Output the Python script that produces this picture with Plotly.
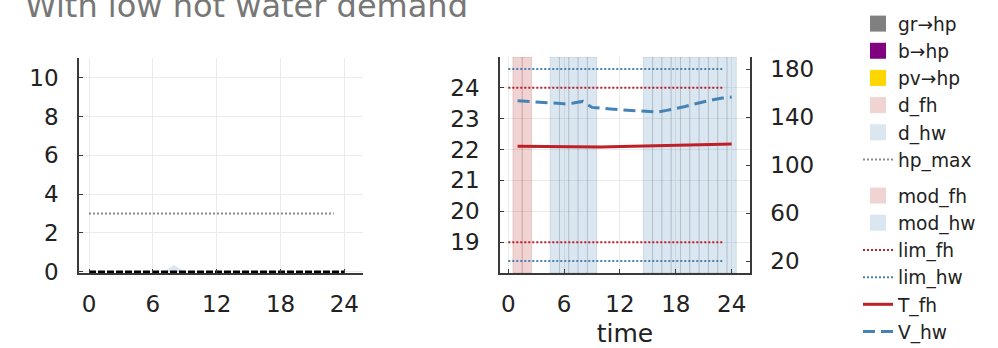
import plotly.graph_objects as go

# ---------------- data ----------------
# heat-pump supply / demand (left panel), hourly
t_in = list(range(0, 24))
gr_hp = [0.0] * 24
b_hp = [0.0] * 24
pv_hp = [0.0] * 24
d_fh = [0.0] * 24
d_hw = [0, 0, 0, 0, 0, 0, 0, 0, 0.35, 0, 0, 0, 0, 0, 0, 0, 0, 0, 0, 0, 0, 0, 0, 0]
hp_max = [3.0] * 24
t_out = list(range(0, 25))
hp_total = [0.0] * 25

# storage states (right panel)
t_state = list(range(1, 25))
T_fh = [22.11, 22.105, 22.10, 22.095, 22.09, 22.085, 22.08, 22.075, 22.08, 22.085,
        22.09, 22.095, 22.10, 22.105, 22.11, 22.12, 22.125, 22.13, 22.14, 22.145,
        22.15, 22.16, 22.17, 22.18]
V_hw = [153.5, 153.0, 152.4, 151.6, 151.0, 151.0, 151.6, 153.0, 148.0, 147.1,
        146.6, 146.0, 145.5, 144.9, 144.4, 144.1, 145.5, 146.9, 148.8, 150.8,
        152.7, 154.4, 155.8, 156.6]
mod_fh = [1, 1, 0, 0, 0, 0, 0, 0, 0, 0, 0, 0, 0, 0, 0, 0, 0, 0, 0, 0, 0, 0, 0, 0]
mod_hw = [0, 0, 0, 0, 1, 1, 1, 1, 1, 0, 0, 0, 0, 0, 1, 1, 1, 1, 1, 1, 1, 1, 1, 1]
lim_fh = [19.0, 24.0]
lim_hw = [20.0, 180.0]

xticks = [0, 6, 12, 18, 24]
yticks_left = [0, 2, 4, 6, 8, 10]
yticks_T = [19, 20, 21, 22, 23, 24]
yticks_V = [20, 60, 100, 140, 180]

title_text = "With low hot water demand"

# ---------------- styling ----------------
FONT = "DejaVu Sans"
RED = "rgb(190,32,40)"
BLUE = "rgb(70,130,180)"
RED_FILL = "rgba(178,34,34,0.2)"
BLUE_FILL = "rgba(70,130,180,0.2)"
GRID = "#ebebeb"
AXIS = "#3a3a3a"
W, H = 998, 348


def px_x(a, b):
    return [a / W, b / W]


def px_y(top, bottom):
    return [1 - bottom / H, 1 - top / H]


fig = go.Figure()

# ----- left panel: stacked supply and demand -----
stack = [("gr→hp", gr_hp, "rgba(128,128,128,1)"),
         ("b→hp", b_hp, "rgba(128,0,128,1)"),
         ("pv→hp", pv_hp, "rgba(255,215,0,1)"),
         ("d_fh", d_fh, RED_FILL),
         ("d_hw", d_hw, BLUE_FILL)]
for name, vals, col in stack:
    fig.add_trace(go.Scatter(x=t_in, y=vals, stackgroup="supply", mode="lines",
                             line=dict(width=0), fillcolor=col, name=name,
                             showlegend=False, xaxis="x", yaxis="y"))

fig.add_trace(go.Scatter(x=t_out, y=hp_total, mode="lines",
                         line=dict(color="black", width=2.5, dash="7px,2px"),
                         showlegend=False, xaxis="x", yaxis="y"))
fig.add_trace(go.Scatter(x=t_in, y=hp_max, mode="lines",
                         line=dict(color="#8a8a8a", width=2, dash="2px,2px"),
                         showlegend=False, xaxis="x", yaxis="y"))

# legend entries for the left panel
for name, _, col in stack:
    fig.add_trace(go.Scatter(x=[None], y=[None], mode="markers", name=name,
                             marker=dict(symbol="square", size=16, color=col),
                             legend="legend", xaxis="x", yaxis="y"))
fig.add_trace(go.Scatter(x=[None], y=[None], mode="lines", name="hp_max",
                         line=dict(color="#8a8a8a", width=2, dash="2px,2px"),
                         legend="legend", xaxis="x", yaxis="y"))

# ----- right panel: operating modes as hourly bands -----
fh_on = [t for t, m in zip(t_state, mod_fh) if m]
hw_on = [t for t, m in zip(t_state, mod_hw) if m]
fig.add_trace(go.Bar(x=fh_on, y=[1] * len(fh_on), width=1, marker=dict(
    color=RED_FILL, line=dict(color="rgba(150,60,60,0.18)", width=1)),
    showlegend=False, xaxis="x2", yaxis="y2"))
fig.add_trace(go.Bar(x=hw_on, y=[1] * len(hw_on), width=1, marker=dict(
    color=BLUE_FILL, line=dict(color="rgba(90,100,120,0.16)", width=1)),
    showlegend=False, xaxis="x2", yaxis="y2"))

# comfort limits and states
t_lim = t_in + [None] + t_in
fig.add_trace(go.Scatter(x=t_lim, y=[lim_fh[0]] * 24 + [None] + [lim_fh[1]] * 24,
                         mode="lines", line=dict(color=RED, width=2, dash="2px,2px"),
                         showlegend=False, xaxis="x2", yaxis="y3"))
fig.add_trace(go.Scatter(x=t_state, y=T_fh, mode="lines",
                         line=dict(color=RED, width=3),
                         showlegend=False, xaxis="x2", yaxis="y3"))
fig.add_trace(go.Scatter(x=t_lim, y=[lim_hw[0]] * 24 + [None] + [lim_hw[1]] * 24,
                         mode="lines", line=dict(color=BLUE, width=2, dash="2px,2px"),
                         showlegend=False, xaxis="x2", yaxis="y4"))
fig.add_trace(go.Scatter(x=t_state, y=V_hw, mode="lines",
                         line=dict(color=BLUE, width=3, dash="12px,6px"),
                         showlegend=False, xaxis="x2", yaxis="y4"))

# legend entries for the right panel
for name, col in [("mod_fh", RED_FILL), ("mod_hw", BLUE_FILL)]:
    fig.add_trace(go.Scatter(x=[None], y=[None], mode="markers", name=name,
                             marker=dict(symbol="square", size=16, color=col),
                             legend="legend2", xaxis="x2", yaxis="y3"))
for name, col, dash, wd in [("lim_fh", RED, "2px,2px", 2), ("lim_hw", BLUE, "2px,2px", 2),
                            ("T_fh", RED, "solid", 3), ("V_hw", BLUE, "12px,6px", 3)]:
    fig.add_trace(go.Scatter(x=[None], y=[None], mode="lines", name=name,
                             line=dict(color=col, width=wd, dash=dash),
                             legend="legend2", xaxis="x2", yaxis="y3"))

axis_common = dict(showline=True, linecolor=AXIS, linewidth=1.5, ticks="inside",
                   ticklen=4, tickcolor=AXIS, zeroline=False, gridcolor=GRID,
                   gridwidth=1, automargin=False,
                   tickfont=dict(family=FONT, size=23, color="#222"))

legend_common = dict(xanchor="left", yanchor="top", bgcolor="rgba(0,0,0,0)",
                     tracegroupgap=0, traceorder="normal",
                     font=dict(family=FONT, size=18.6, color="#222"))

xaxis2_style = dict(axis_common, automargin=True)

fig.update_layout(
    width=W, height=H, margin=dict(l=0, r=0, t=0, b=0, autoexpand=False),
    paper_bgcolor="white", plot_bgcolor="white", barmode="overlay",
    font=dict(family=FONT, color="#222"),
    xaxis=dict(domain=px_x(79, 363), range=[-0.94, 25.75], tickvals=xticks,
               anchor="y", ticklabelstandoff=10, **axis_common),
    yaxis=dict(domain=px_y(58, 273), range=[-0.06, 11.01], tickvals=yticks_left,
               anchor="x", ticklabelstandoff=14, **axis_common),
    xaxis2=dict(domain=px_x(500, 750), range=[-0.89, 25.97], tickvals=xticks,
                anchor="y2", ticklabelstandoff=10,
                title=dict(text="time", font=dict(family=FONT, size=25, color="#222"),
                           standoff=10),
                **xaxis2_style),
    yaxis2=dict(domain=px_y(57, 273), range=[0, 1], visible=False, anchor="x2"),
    yaxis3=dict(overlaying="y2", side="left", anchor="x2", range=[18.0, 25.0],
                tickvals=yticks_T, ticklabelstandoff=14, **axis_common),
    yaxis4=dict(overlaying="y2", side="right", anchor="x2", range=[10, 190],
                tickvals=yticks_V, showgrid=False, ticklabelstandoff=14, **axis_common),
    legend=dict(x=858 / W, y=1 - 5 / H, **legend_common),
    legend2=dict(x=858 / W, y=1 - 177 / H, **legend_common),
    annotations=[dict(text=title_text, xref="paper", yref="paper", x=23 / W,
                      y=1 - 27 / H, xanchor="left", yanchor="bottom", showarrow=False,
                      font=dict(family=FONT, size=32, color="#777"))],
)

fig.write_html("out.html")
